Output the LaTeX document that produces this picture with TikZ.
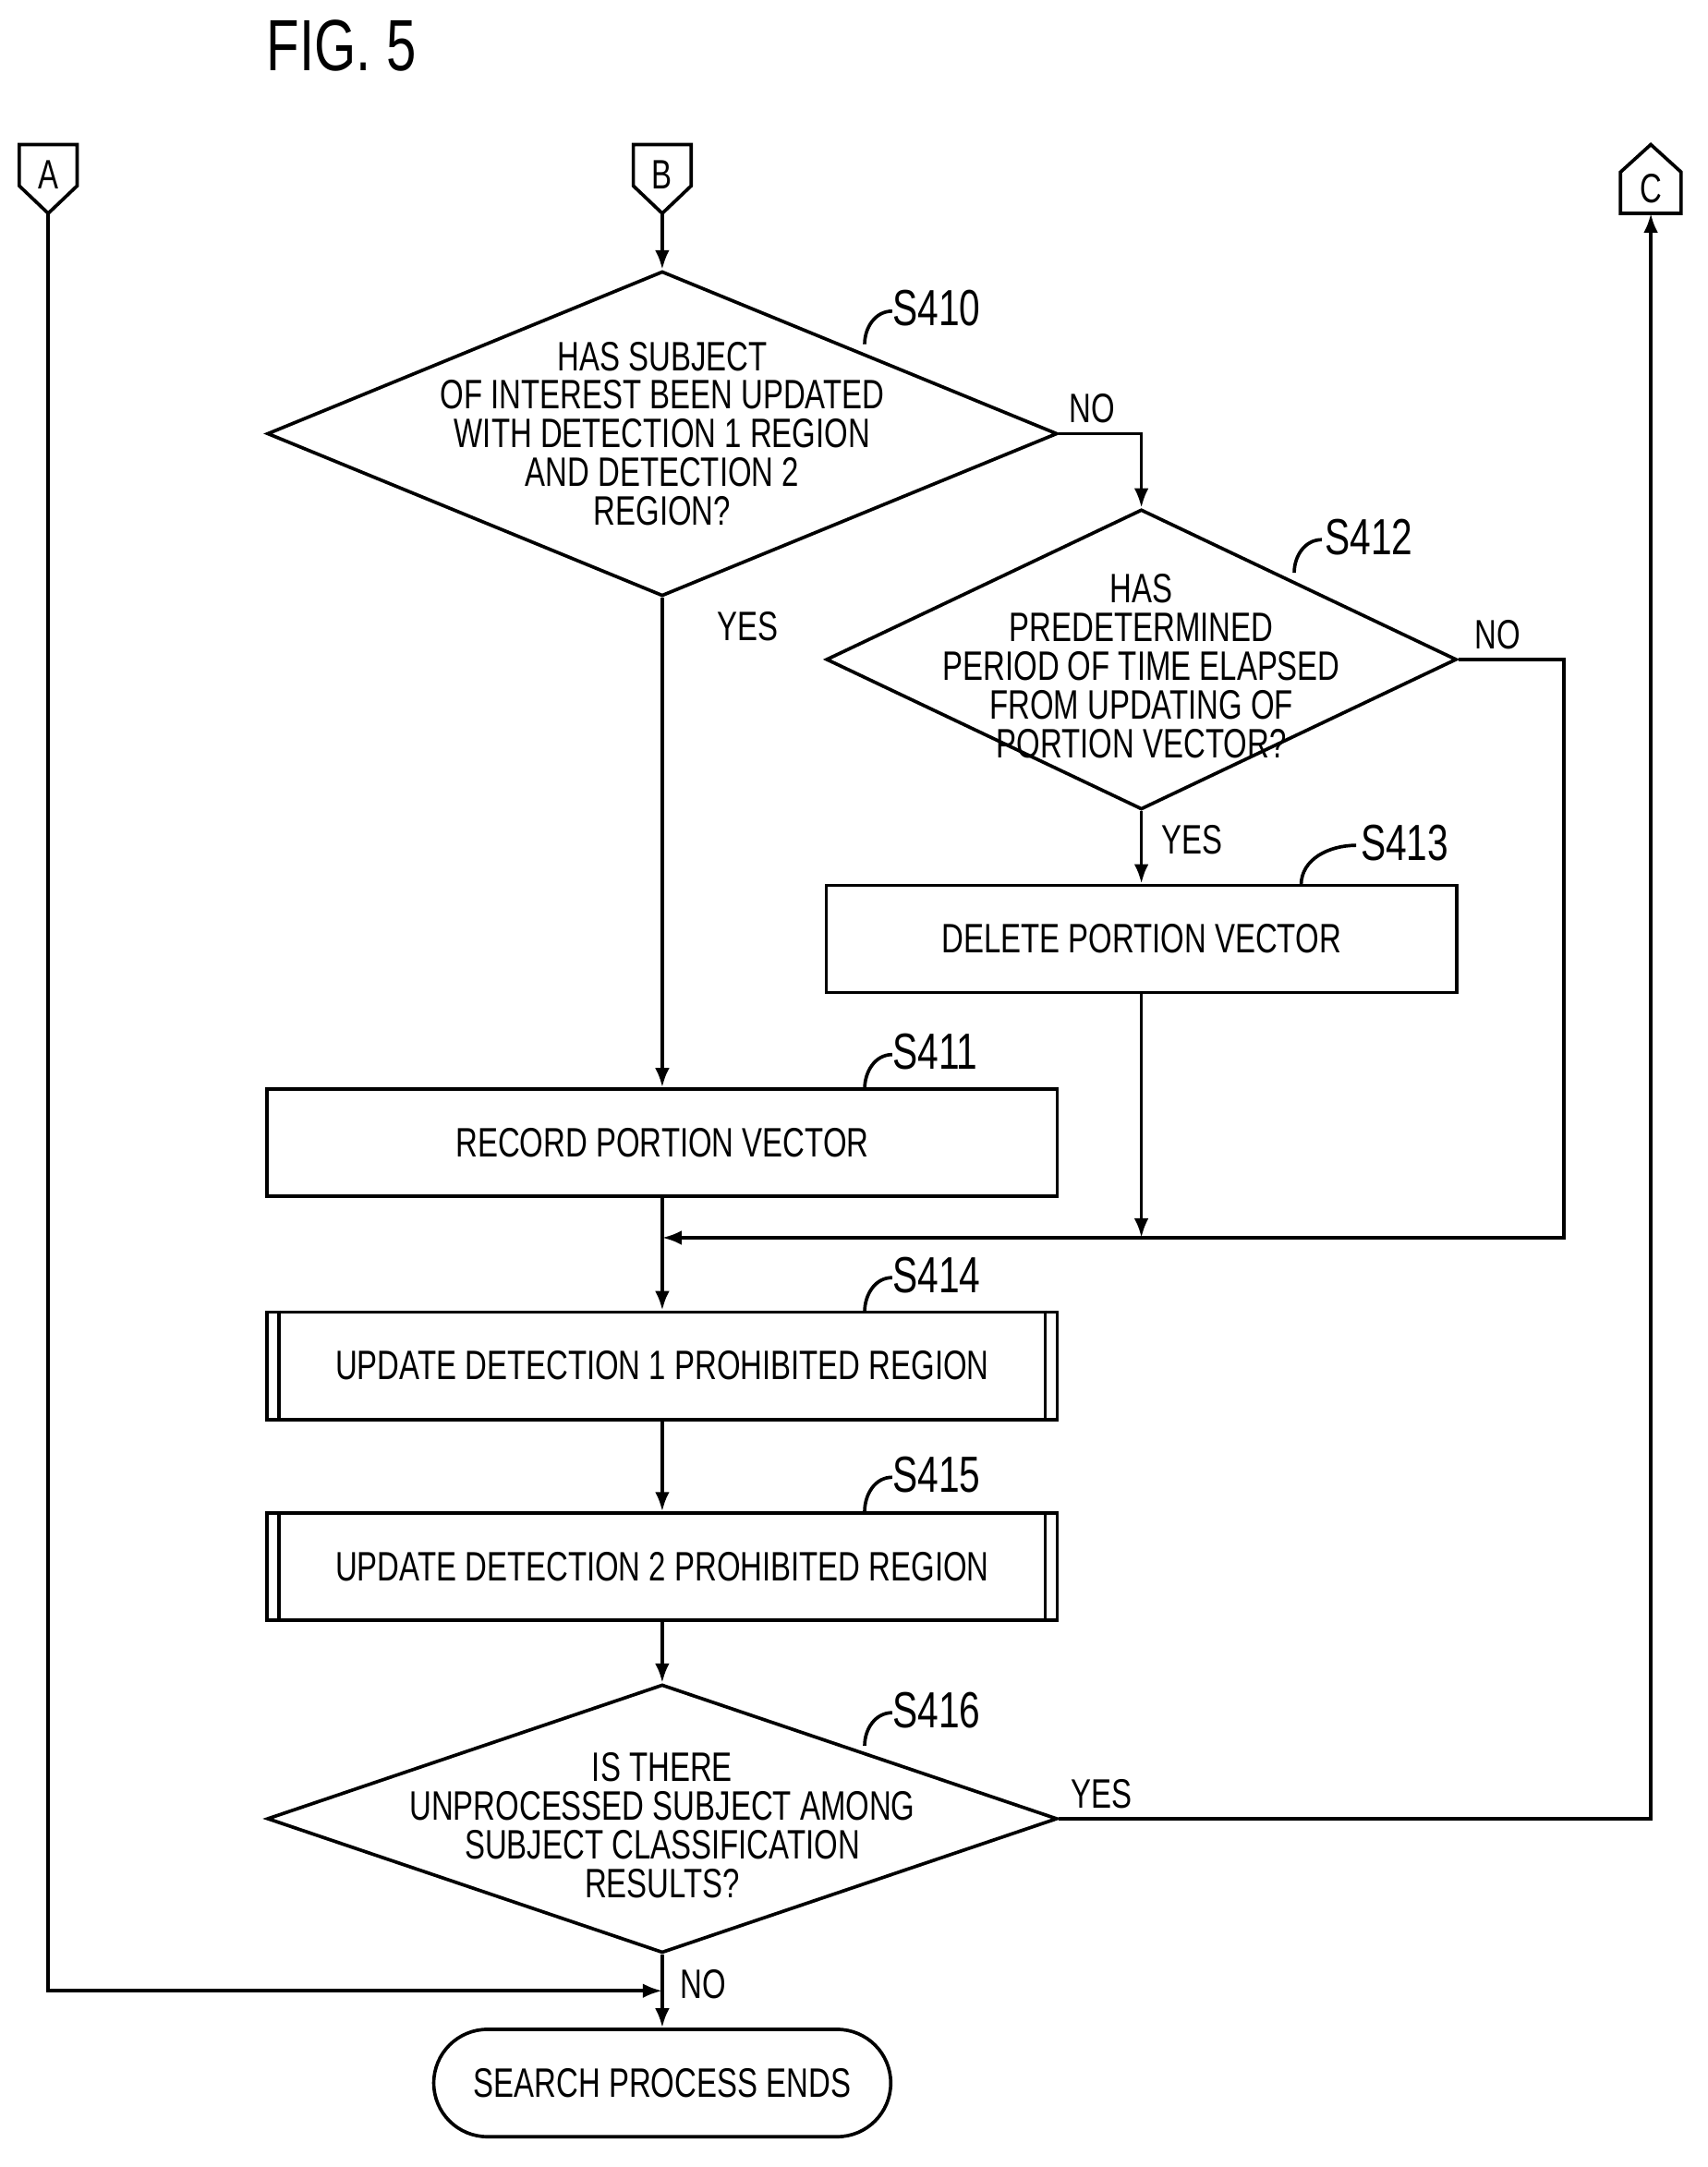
\documentclass[tikz,border=0pt]{standalone}
\usepackage{fontspec}
\setmainfont{Liberation Sans}[FakeStretch=0.74]
\usetikzlibrary{shapes.geometric,arrows.meta}

\tikzset{
  line/.style={line width=1.4pt},
  arr/.style={line, -{Latex[length=8pt,width=6pt]}},
  lbl/.style={font=\fontsize{17}{16}\selectfont, align=center, inner sep=0pt},
  stepno/.style={font=\fontsize{21}{21}\selectfont, inner sep=0pt, anchor=west},
  dec/.style={draw, line, shape=diamond, inner sep=0pt},
  box/.style={draw, line, rectangle, inner sep=0pt, font=\fontsize{17}{16}\selectfont},
}

\begin{document}
\begin{tikzpicture}[x=0.02cm, y=-0.02cm]
  \useasboundingbox (0,0) rectangle (1240,1574);

  \node[font=\fontsize{30}{30}\selectfont] at (248,33) {FIG. 5};

  % off-page connectors
  \draw[line] (14,105) -- (56,105) -- (56,135) -- (35,155) -- (14,135) -- cycle;
  \node[lbl] (A) at (35,127) {A};
  \coordinate (Abot) at (35,155);
  \draw[line] (460,105) -- (502,105) -- (502,135) -- (481,155) -- (460,135) -- cycle;
  \node[lbl] (B) at (481,127) {B};
  \coordinate (Bbot) at (481,155);
  \draw[line] (1177,155) -- (1221,155) -- (1221,125) -- (1199,105) -- (1177,125) -- cycle;
  \node[lbl] (C) at (1199,137) {C};
  \coordinate (Cbot) at (1199,155);

  % decisions
  \node[dec, minimum width=11.48cm, minimum height=4.72cm] (d410) at (481,315) {};
  \node[lbl] at (d410) {HAS SUBJECT\\OF INTEREST BEEN UPDATED\\WITH DETECTION 1 REGION\\AND DETECTION 2\\REGION?};
  \node[dec, minimum width=9.16cm, minimum height=4.36cm] (d412) at (829,479) {};
  \node[lbl] at ([yshift=-0.1cm]d412) {HAS\\PREDETERMINED\\PERIOD OF TIME ELAPSED\\FROM UPDATING OF\\PORTION VECTOR?};
  \node[dec, minimum width=11.48cm, minimum height=3.9cm] (d416) at (481,1321) {};
  \node[lbl] at ([yshift=-0.1cm]d416) {IS THERE\\UNPROCESSED SUBJECT AMONG\\SUBJECT CLASSIFICATION\\RESULTS?};

  % processes
  \node[box, minimum width=9.16cm, minimum height=1.56cm] (s413) at (829,682) {DELETE PORTION VECTOR};
  \node[box, minimum width=11.48cm, minimum height=1.56cm] (s411) at (481,830) {RECORD PORTION VECTOR};
  \node[box, minimum width=11.48cm, minimum height=1.56cm] (s414) at (481,992) {UPDATE DETECTION 1 PROHIBITED REGION};
  \node[box, minimum width=11.48cm, minimum height=1.56cm] (s415) at (481,1138) {UPDATE DETECTION 2 PROHIBITED REGION};
  \foreach \n in {s414,s415} {
    \draw[line] ([xshift=0.2cm]\n.north west) -- ([xshift=0.2cm]\n.south west);
    \draw[line] ([xshift=-0.2cm]\n.north east) -- ([xshift=-0.2cm]\n.south east);
  }
  \node[box, rounded corners=0.78cm, minimum width=6.64cm, minimum height=1.56cm] (end) at (481,1513) {SEARCH PROCESS ENDS};

  % step labels
  \draw[line] (628,250) to[out=90,in=180] (648,226);
  \node[stepno] at (648,224) {S410};
  \draw[line] (940,416) to[out=90,in=180] (960,392);
  \node[stepno] at (962,390) {S412};
  \draw[line] (945,643) to[out=90,in=180] (985,614);
  \node[stepno] at (988,612) {S413};
  \draw[line] (628,791) to[out=90,in=180] (648,766);
  \node[stepno] at (648,764) {S411};
  \draw[line] (628,953) to[out=90,in=180] (648,928);
  \node[stepno] at (648,926) {S414};
  \draw[line] (628,1098) to[out=90,in=180] (648,1073);
  \node[stepno] at (648,1071) {S415};
  \draw[line] (628,1268) to[out=90,in=180] (648,1244);
  \node[stepno] at (648,1242) {S416};

  % connectors
  \coordinate (j) at (481,899);
  \draw[arr] (Bbot) -- (d410.north);
  \draw[arr] (d410.east) -| (d412.north);
  \draw[arr] (d410.south) -- (s411.north);
  \draw[arr] (d412.south) -- (s413.north);
  \draw[arr] (s413.south) -- (829,899);
  \draw[arr] (d412.east) -- (1136,479) -- (1136,899) -- (j);
  \draw[line] (s411.south) -- (j);
  \draw[arr] (j) -- (s414.north);
  \draw[arr] (s414.south) -- (s415.north);
  \draw[arr] (s415.south) -- (d416.north);
  \draw[arr] (d416.east) -| (Cbot);
  \draw[arr] (d416.south) -- (end.north);
  \draw[arr] (Abot) |- (481,1446);

  % branch labels
  \node[lbl] at (793,297) {NO};
  \node[lbl] at (543,455) {YES};
  \node[lbl] at (1088,461) {NO};
  \node[lbl] at (866,610) {YES};
  \node[lbl] at (800,1303) {YES};
  \node[lbl] at (511,1441) {NO};
\end{tikzpicture}
\end{document}
